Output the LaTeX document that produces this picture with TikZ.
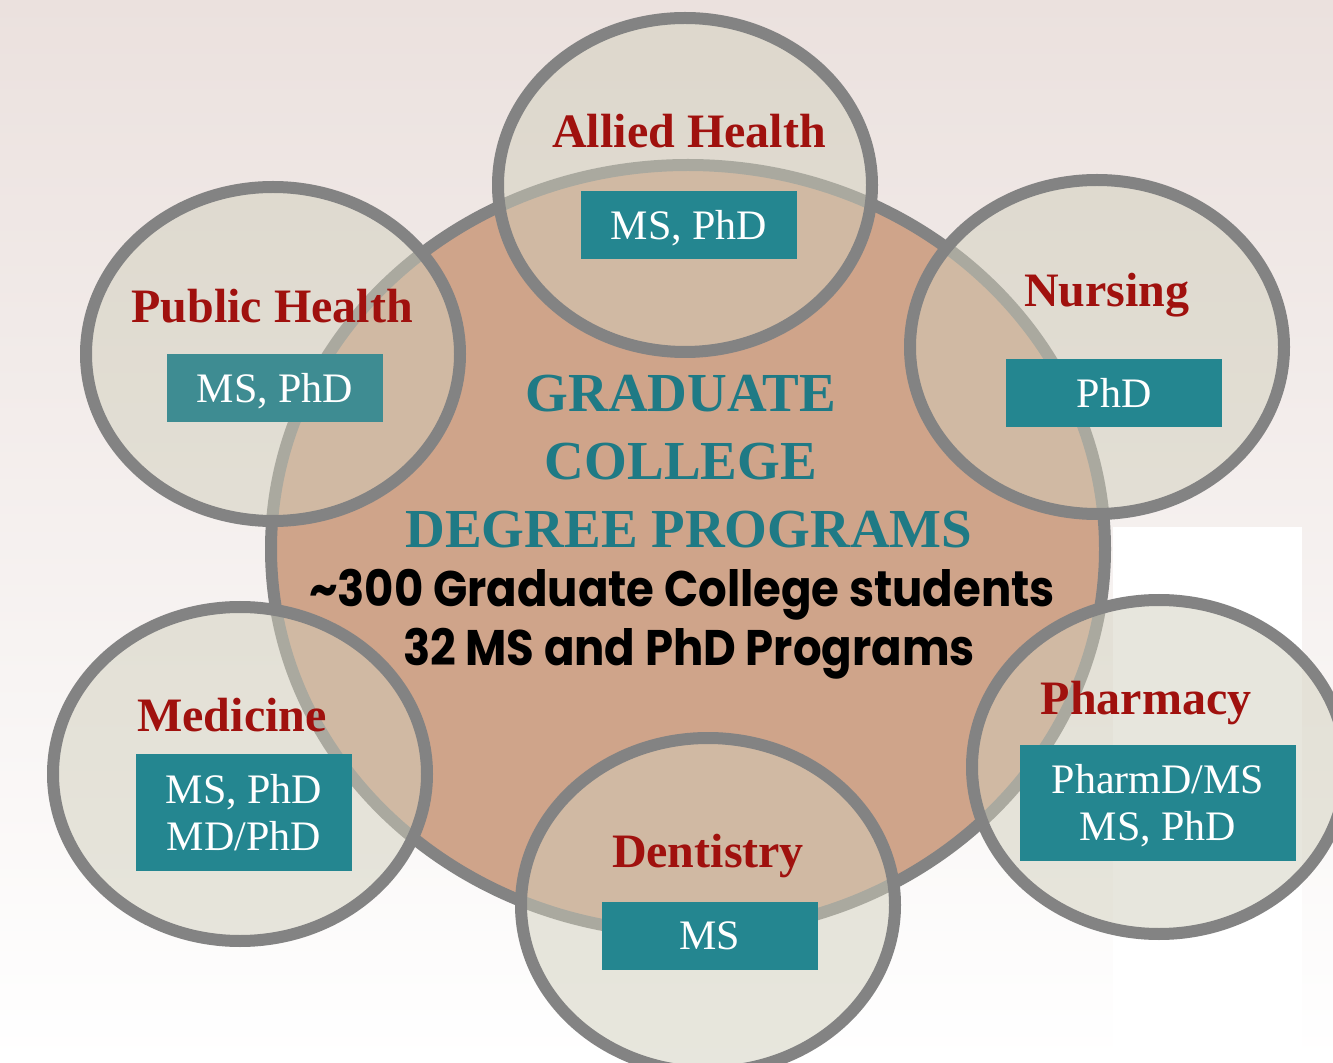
\documentclass[tikz,border=0pt]{standalone}
\usepackage{fontspec}
\setmainfont{Liberation Serif}
\newfontfamily\gothic[FakeStretch=0.9]{Poppins}
\usetikzlibrary{shapes.geometric}
\definecolor{bgtop}{RGB}{235,225,222}
\definecolor{ringgray}{RGB}{131,131,131}
\definecolor{hubfill}{RGB}{207,164,138}
\definecolor{unitfill}{RGB}{209,207,188}
\definecolor{boxteal}{RGB}{36,134,144}
\definecolor{boxpale}{RGB}{62,140,146}
\definecolor{headteal}{RGB}{31,122,133}
\definecolor{unitred}{RGB}{160,17,14}
\tikzset{
  unit/.style={ellipse,draw=ringgray,line width=6pt,fill=unitfill,fill opacity=0.5,
    minimum width=187pt,minimum height=167pt,inner sep=0pt},
  unitname/.style={anchor=base,text=unitred,font=\fontsize{24}{28}\selectfont\bfseries},
  degbox/.style={fill=boxteal,text=white,inner sep=0pt,minimum width=108pt,
    minimum height=34pt,text depth=0pt,align=center,font=\fontsize{21}{23.5}\selectfont},
  headline/.style={anchor=base,text=headteal,font=\fontsize{27.5}{34}\selectfont\bfseries},
  tally/.style={anchor=base,font=\gothic\bfseries\fontsize{25}{29}\selectfont},
}
\begin{document}
\begin{tikzpicture}[x=0.5pt,y=-0.5pt]
    \useasboundingbox (0,0) rectangle (1333,1063);
    \shade[top color=bgtop,bottom color=white] (0,0) rectangle (1333,1063);
    \fill[white] (1113,527) rectangle (1302,1063);
    % hub
    \node[ellipse,draw=ringgray,line width=6pt,fill=hubfill,minimum width=417pt,
        minimum height=384pt] (hub) at (688,549) {};
    % schools
    \node[unit] (allied) at (685,185) {};
    \node[unit] (public) at (273,354) {};
    \node[unit] (nursing) at (1097,347) {};
    \node[unit] (medicine) at (240,774) {};
    \node[unit] (pharmacy) at (1159,767) {};
    \node[unit] (dentistry) at (708,905) {};
    \node[unitname] (alliedname) at (689,148) {Allied Health};
    \node[unitname] (publicname) at (272,323) {Public Health};
    \node[unitname] (nursingname) at (1107,307) {Nursing};
    \node[unitname] (medicinename) at (232,731) {Medicine};
    \node[unitname] (pharmacyname) at (1146,714) {Pharmacy};
    \node[unitname] (dentistryname) at (708,867) {Dentistry};
    \node[degbox] (alliedbox) at (689,225) {MS, PhD};
    \node[degbox,fill=boxpale] (publicbox) at (275,388) {MS, PhD};
    \node[degbox] (nursingbox) at (1114,393) {PhD};
    \node[degbox,minimum height=58.5pt] (medicinebox) at (244,812.5) {MS, PhD\\MD/PhD};
    \node[degbox,minimum width=138pt,minimum height=58pt] (pharmacybox) at (1158,802.5) {PharmD/MS\\MS, PhD};
    \node[degbox] (dentistrybox) at (710,936) {MS};
    % centre text
    \node[headline] (head1) at (681,412) {GRADUATE};
    \node[headline] (head2) at (681,480) {COLLEGE};
    \node[headline] (head3) at (689,548) {DEGREE PROGRAMS};
    \node[tally] (tally1) at (682,607) {\textasciitilde300 Graduate College students};
    \node[tally] (tally2) at (689,665) {32 MS and PhD Programs};
\end{tikzpicture}
\end{document}
